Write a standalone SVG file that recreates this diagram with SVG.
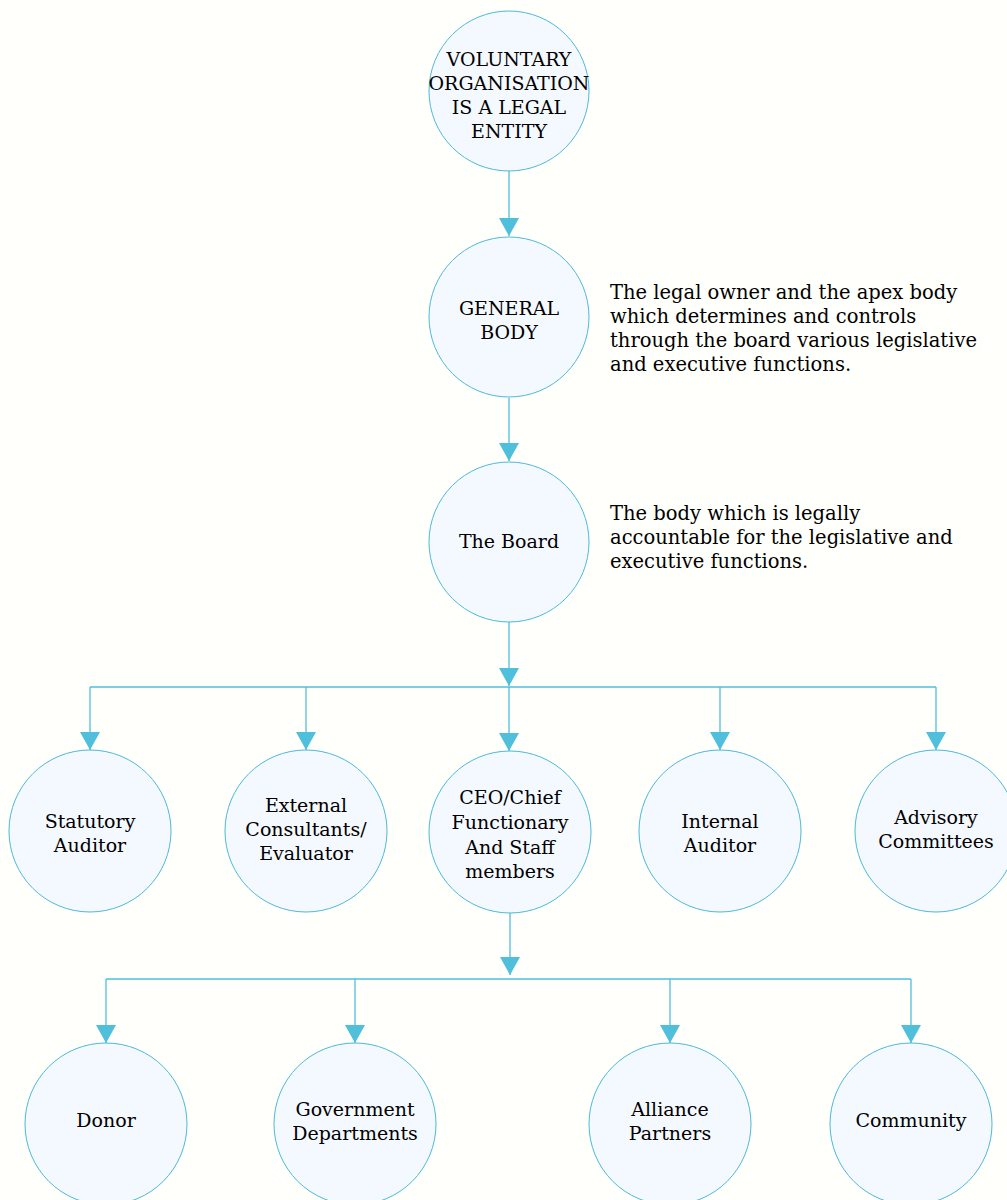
<svg xmlns="http://www.w3.org/2000/svg" width="1007" height="1200" viewBox="0 0 1007 1200">
<defs>
<style>
.n{fill:#f4f9ff;stroke:#4cb9d8;stroke-width:1}
.t{font-family:"DejaVu Serif","Liberation Serif",serif;font-size:19px;fill:#000;text-anchor:middle}
.d{font-family:"DejaVu Serif","Liberation Serif",serif;font-size:19.5px;fill:#000}
.c{fill:none;stroke:#4fbfdc;stroke-width:1.3}
</style>
<marker id="ah" markerWidth="20" markerHeight="18" refX="10" refY="18" orient="0" markerUnits="userSpaceOnUse">
<path d="M0,0 L20,0 L10,18 Z" fill="#4fbfdc"/>
</marker>
</defs>
<rect width="1007" height="1200" fill="#fffffb"/>
<g id="connectors">
<path class="c" d="M509,171 V236" marker-end="url(#ah)"/>
<path class="c" d="M509,398 V461" marker-end="url(#ah)"/>
<path class="c" d="M509,622 V686" marker-end="url(#ah)"/>
<path class="c" d="M90,687 H936"/>
<path class="c" d="M90,687 V750" marker-end="url(#ah)"/>
<path class="c" d="M306,687 V750" marker-end="url(#ah)"/>
<path class="c" d="M509,687 V751" marker-end="url(#ah)"/>
<path class="c" d="M720,687 V750" marker-end="url(#ah)"/>
<path class="c" d="M936,687 V750" marker-end="url(#ah)"/>
<path class="c" d="M510,912 V975" marker-end="url(#ah)"/>
<path class="c" d="M106,979 H911"/>
<path class="c" d="M106,979 V1043" marker-end="url(#ah)"/>
<path class="c" d="M355,979 V1043" marker-end="url(#ah)"/>
<path class="c" d="M670,979 V1043" marker-end="url(#ah)"/>
<path class="c" d="M911,979 V1043" marker-end="url(#ah)"/>
</g>
<g id="n1"><circle class="n" cx="509" cy="91" r="80"/>
<text class="t" x="509" y="66">VOLUNTARY</text><text class="t" x="509" y="90">ORGANISATION</text><text class="t" x="509" y="114">IS A LEGAL</text><text class="t" x="509" y="138">ENTITY</text></g>
<g id="n2"><circle class="n" cx="509" cy="317" r="80"/>
<text class="t" x="509" y="315">GENERAL</text><text class="t" x="509" y="339">BODY</text></g>
<g id="n3"><circle class="n" cx="509" cy="542" r="80"/>
<text class="t" x="509" y="548">The Board</text></g>
<g id="n4"><circle class="n" cx="90" cy="831" r="81"/>
<text class="t" x="90" y="828">Statutory</text><text class="t" x="90" y="852">Auditor</text></g>
<g id="n5"><circle class="n" cx="306" cy="831" r="81"/>
<text class="t" x="306" y="812">External</text><text class="t" x="306" y="836">Consultants/</text><text class="t" x="306" y="860">Evaluator</text></g>
<g id="n6"><circle class="n" cx="510" cy="832" r="81"/>
<text class="t" x="510" y="804">CEO/Chief</text><text class="t" x="510" y="829">Functionary</text><text class="t" x="510" y="854">And Staff</text><text class="t" x="510" y="878">members</text></g>
<g id="n7"><circle class="n" cx="720" cy="831" r="81"/>
<text class="t" x="720" y="828">Internal</text><text class="t" x="720" y="852">Auditor</text></g>
<g id="n8"><circle class="n" cx="936" cy="831" r="81"/>
<text class="t" x="936" y="824">Advisory</text><text class="t" x="936" y="848">Committees</text></g>
<g id="n9"><circle class="n" cx="106" cy="1124" r="81"/>
<text class="t" x="106" y="1127">Donor</text></g>
<g id="n10"><circle class="n" cx="355" cy="1124" r="81"/>
<text class="t" x="355" y="1116">Government</text><text class="t" x="355" y="1140">Departments</text></g>
<g id="n11"><circle class="n" cx="670" cy="1124" r="81"/>
<text class="t" x="670" y="1116">Alliance</text><text class="t" x="670" y="1140">Partners</text></g>
<g id="n12"><circle class="n" cx="911" cy="1124" r="81"/>
<text class="t" x="911" y="1127">Community</text></g>
<g id="desc1">
<text class="d" x="610" y="299">The legal owner and the apex body</text>
<text class="d" x="610" y="323">which determines and controls</text>
<text class="d" x="610" y="347">through the board various legislative</text>
<text class="d" x="610" y="371">and executive functions.</text>
</g>
<g id="desc2">
<text class="d" x="610" y="520">The body which is legally</text>
<text class="d" x="610" y="544">accountable for the legislative and</text>
<text class="d" x="610" y="568">executive functions.</text>
</g>
</svg>
